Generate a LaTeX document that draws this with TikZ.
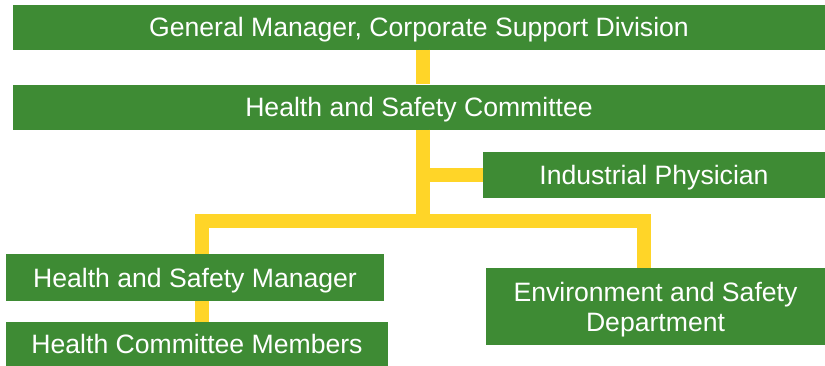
\documentclass[tikz,border=0pt]{standalone}
\usepackage{fontspec}
\setmainfont{Liberation Sans}
\usepackage{tikz}
\usetikzlibrary{calc}
\definecolor{boxgreen}{RGB}{62,139,52}
\definecolor{linkyellow}{RGB}{255,213,40}

\begin{document}
\begin{tikzpicture}[x=1pt, y=-1pt,
        box/.style={fill=boxgreen, text=white, inner sep=0pt, align=center,
            font=\fontsize{26.6}{30}\selectfont, text height=19pt, text depth=0pt},
        link/.style={draw=linkyellow, line width=14pt, line join=miter}]
        \useasboundingbox (0,0) rectangle (825,365);

        % Boxes
        \node[box, minimum width=812pt, minimum height=45pt] (gm) at (419,27) {General Manager, Corporate Support Division};
        \node[box, minimum width=812pt, minimum height=45pt] (hsc) at (419,107) {Health and Safety Committee};
        \node[box, minimum width=342pt, minimum height=46pt] (ip) at (654,175) {Industrial Physician};
        \node[box, minimum width=378pt, minimum height=47pt] (hsm) at (195,277.5) {Health and Safety Manager};
        \node[box, minimum width=382pt, minimum height=44pt] (hcm) at (197,344) {Health Committee Members};
        \node[box, text height=49pt, minimum width=339pt, minimum height=77pt] (esd) at (655.5,306.5) {Environment and Safety\\Department};

        % Points of the tree
        \coordinate (trunk) at (423,0);
        \coordinate (split) at (423,220.5);
        \coordinate (leftx) at (201.5,0);
        \coordinate (rightx) at (644,0);

        % Connectors
        \draw[link] (gm.south -| trunk) -- (hsc.north -| trunk);
        \draw[link] (hsc.south -| trunk) -- (split);
        \draw[link] (ip.west) -- (ip.west -| trunk);
        \draw[link] (hsm.north -| leftx) |- (split) -| (esd.north -| rightx);
        \draw[link] (hsm.south -| leftx) -- (hcm.north -| leftx);
    \end{tikzpicture}
\end{document}
